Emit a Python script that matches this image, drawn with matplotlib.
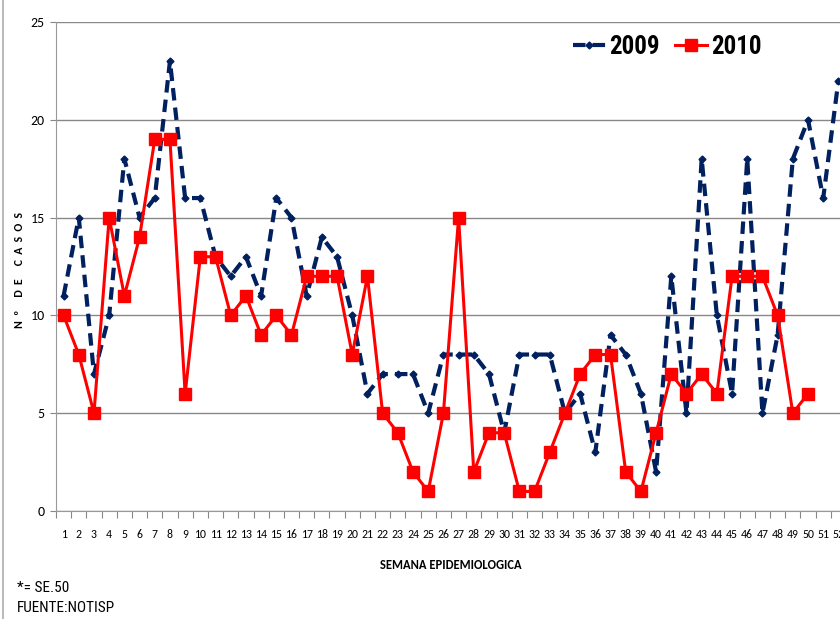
import matplotlib
matplotlib.use('Agg')
import matplotlib.pyplot as plt
import numpy as np

semanas = list(range(1, 53))
casos_2009 = [11, 15, 7, 10, 18, 15, 16, 23, 16, 16, 13, 12, 13, 11, 16, 15, 11, 14, 13, 10,
              6, 7, 7, 7, 5, 8, 8, 8, 7, 4, 8, 8, 8, 5, 6, 3, 9, 8, 6, 2,
              12, 5, 18, 10, 6, 18, 5, 9, 18, 20, 16, 22]
casos_2010 = [10, 8, 5, 15, 11, 14, 19, 19, 6, 13, 13, 10, 11, 9, 10, 9, 12, 12, 12, 8,
              12, 5, 4, 2, 1, 5, 15, 2, 4, 4, 1, 1, 3, 5, 7, 8, 8, 2, 1, 4,
              7, 6, 7, 6, 12, 12, 12, 10, 5, 6]
yticks = [0, 5, 10, 15, 20, 25]

plt.rcParams['font.family'] = ['Carlito', 'DejaVu Sans']
condensada = ['Roboto Condensed', 'Carlito', 'DejaVu Sans']

fig = plt.figure(figsize=(8.4, 6.19), dpi=100)
ax = fig.add_axes([56/840, 108/619, 790/840, 489/619])

ax.plot(semanas, casos_2009, color='#002060', lw=3, dashes=(3, 1.7),
        marker='D', markersize=3.5, label='2009', zorder=3)
ax.plot(semanas[:len(casos_2010)], casos_2010, color='#FF0000', lw=2.2,
        marker='s', markersize=8, label='2010', zorder=4)

ax.set_ylim(0, 25)
ax.set_xlim(0.5, 52.5)
ax.set_yticks(yticks)
ax.tick_params(axis='y', labelsize=10, length=4, color='#888888', pad=4)
ax.grid(axis='y', color='#888888', lw=1)
ax.set_axisbelow(True)

# marcas entre categorias, rotulos nas categorias
ax.set_xticks(np.arange(0.5, 53, 1))
ax.set_xticklabels([])
ax.tick_params(axis='x', which='major', length=5, color='#888888')
ax.set_xticks(semanas, minor=True)
ax.set_xticklabels([str(s) for s in semanas], minor=True, fontsize=8.5)
ax.tick_params(axis='x', which='minor', length=0, pad=13)

for s in ['top', 'right']:
    ax.spines[s].set_visible(False)
for s in ['left', 'bottom']:
    ax.spines[s].set_color('#999999')

ylabel = '     '.join('  '.join(p) for p in ['Nº', 'DE', 'CASOS'])
fig.text(20/840, 1 - 270/619, ylabel, fontsize=8.5, fontweight='bold',
         rotation=90, ha='center', va='center')
fig.text(451/840, 1 - 565/619, 'SEMANA EPIDEMIOLOGICA', fontsize=9, fontweight='bold',
         ha='center', va='center')

ax.legend(loc='center right', bbox_to_anchor=(0.906, 0.949), borderaxespad=0,
          frameon=False, ncol=2,
          prop={'family': condensada, 'size': 18, 'weight': 'bold'},
          handlelength=1.3, columnspacing=0.6, handletextpad=0.15)

fig.text(17/840, 1 - 588/619, '*= SE.50', fontsize=11, va='center', family=condensada)
fig.text(17/840, 1 - 608/619, 'FUENTE:NOTISP', fontsize=11, va='center', family=condensada)
fig.add_artist(plt.Line2D([2.5/840, 2.5/840], [0, 1], color='#bbbbbb', lw=1.5))

fig.savefig('out.png', dpi=100)
